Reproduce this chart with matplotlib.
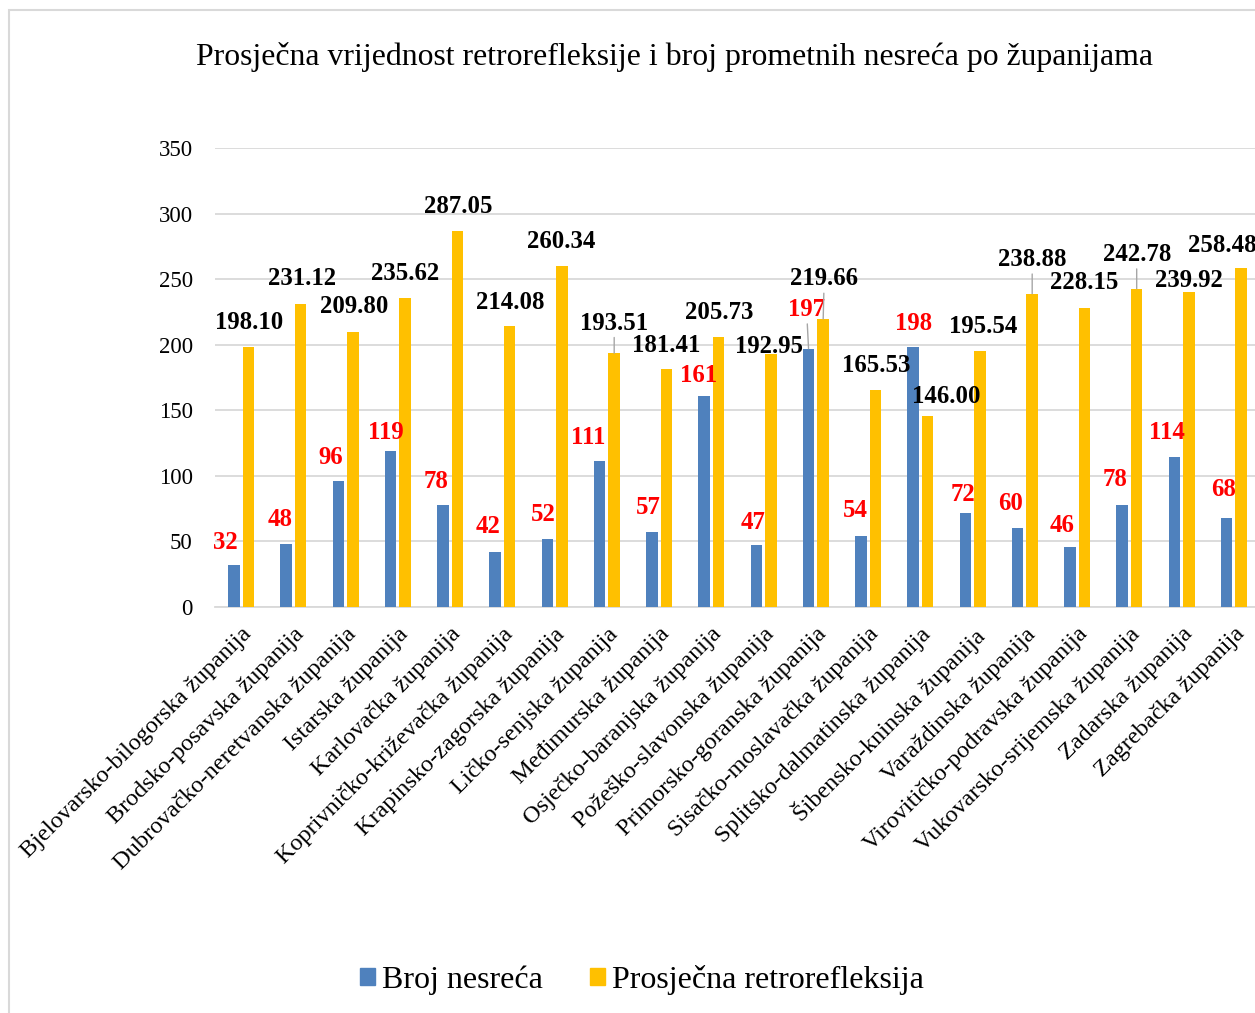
import numpy as np
import matplotlib
matplotlib.use('Agg')
import matplotlib.pyplot as plt
from matplotlib.patches import Patch, Rectangle

plt.rcParams['font.family'] = ['Liberation Serif', 'DejaVu Serif']

# data
zupanije = [
    'Bjelovarsko-bilogorska županija', 'Brodsko-posavska županija',
    'Dubrovačko-neretvanska županija', 'Istarska županija',
    'Karlovačka županija', 'Koprivničko-križevačka županija',
    'Krapinsko-zagorska županija', 'Ličko-senjska županija',
    'Međimurska županija', 'Osječko-baranjska županija',
    'Požeško-slavonska županija', 'Primorsko-goranska županija',
    'Sisačko-moslavačka županija', 'Splitsko-dalmatinska županija',
    'Šibensko-kninska županija', 'Varaždinska županija',
    'Virovitičko-podravska županija', 'Vukovarsko-srijemska županija',
    'Zadarska županija', 'Zagrebačka županija',
]
broj_nesreca = [32, 48, 96, 119, 78, 42, 52, 111, 57, 161,
                47, 197, 54, 198, 72, 60, 46, 78, 114, 68]
retrorefleksija = [198.10, 231.12, 209.80, 235.62, 287.05, 214.08, 260.34,
                   193.51, 181.41, 205.73, 192.95, 219.66, 165.53, 146.00,
                   195.54, 238.88, 228.15, 242.78, 239.92, 258.48]

# label placement (pixel offsets from bar top), roughly as dragged in Excel
off_red = [(-8, 23), (-6, 25), (-8, 24), (-5, 18), (-7, 23), (-7, 25), (-4, 24),
           (-11, 24), (-3, 25), (-5, 20), (-3, 23), (-2, 39), (-5, 26), (1, 24),
           (-2, 18), (-7, 25), (-8, 21), (-7, 25), (-7, 25), (-3, 28)]
off_blk = [(1, 25), (1, 25), (1, 25), (0, 25), (1, 24), (1, 24), (-1, 24),
           (0, 30), (0, 24), (0, 25), (-2, 7), (1, 40), (1, 24), (19, 19),
           (3, 24), (0, 34), (0, 25), (0, 34), (0, 12), (-19, 23)]
lead_red = [11]
lead_blk = [7, 11, 15, 17]

BLUE = '#4f81bd'
GOLD = '#ffc000'
GRID = '#d9d9d9'

W, H = 1255, 1013
fig = plt.figure(figsize=(W / 100, H / 100), dpi=100)

# chart area border
fig.patches.append(Rectangle((9 / W, -0.01), 1.1, 1 - 10 / H + 0.01,
                             transform=fig.transFigure, fill=False,
                             edgecolor=GRID, lw=1.5))

ax = fig.add_axes([215 / W, 1 - 607 / H, 1045 / W, 459 / H])
x = np.arange(len(zupanije))
bw = 0.22
ax.bar(x - 0.14, broj_nesreca, bw, color=BLUE, zorder=3)
ax.bar(x + 0.14, retrorefleksija, bw, color=GOLD, zorder=3)

ax.set_xlim(-0.5, len(zupanije) - 0.5)
ax.set_ylim(0, 350)
ax.set_yticks(np.arange(0, 351, 50))
ax.yaxis.grid(True, color=GRID, lw=1.3, zorder=0)
for s in ['top', 'right', 'left']:
    ax.spines[s].set_visible(False)
ax.spines['bottom'].set_color(GRID)
ax.spines['bottom'].set_linewidth(1.3)
ax.tick_params(length=0)
ax.tick_params(axis='y', labelsize=16.5, pad=16)
ax.set_xticks(x)
ax.set_xticklabels(zupanije, rotation=45, ha='right', rotation_mode='anchor',
                   fontsize=17.5)
ax.tick_params(axis='x', pad=12)

lead = dict(arrowstyle='-', color='#a6a6a6', lw=1, shrinkA=0, shrinkB=0)
for i in range(len(zupanije)):
    ax.annotate(str(broj_nesreca[i]), (x[i] - 0.14, broj_nesreca[i]),
                xytext=off_red[i], textcoords='offset pixels',
                ha='center', va='center', color='red', fontweight='bold',
                fontsize=17.8, zorder=5,
                arrowprops=lead if i in lead_red else None)
    ax.annotate(f'{retrorefleksija[i]:.2f}', (x[i] + 0.14, retrorefleksija[i]),
                xytext=off_blk[i], textcoords='offset pixels',
                ha='center', va='center', color='black', fontweight='bold',
                fontsize=17.8, zorder=5,
                arrowprops=lead if i in lead_blk else None)

fig.text(675 / W, 1 - 57 / H,
         'Prosječna vrijednost retrorefleksije i broj prometnih nesreća po županijama',
         ha='center', va='center', fontsize=22.9)

handles = [Patch(color=BLUE, label='Broj nesreća'),
           Patch(color=GOLD, label='Prosječna retrorefleksija')]
fig.legend(handles=handles, loc='center', bbox_to_anchor=(642 / W, 1 - 980 / H),
           ncol=2, frameon=False, fontsize=23, handlelength=0.47,
           handleheight=0.47, handletextpad=0.22, columnspacing=1.45)

fig.savefig('out.png', dpi=100)
